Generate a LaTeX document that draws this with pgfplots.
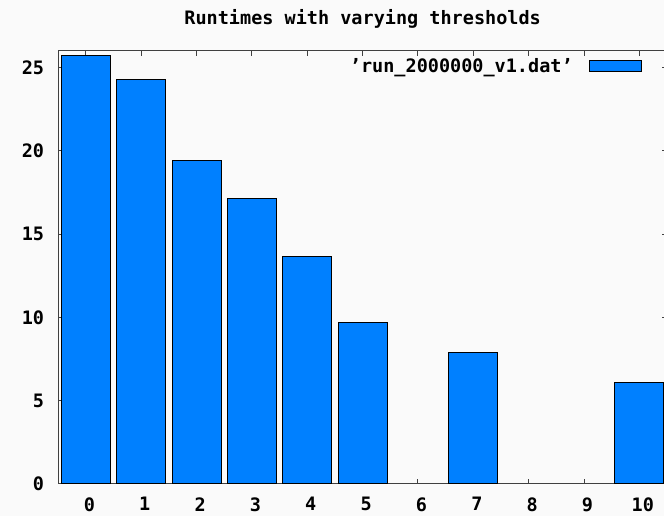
\documentclass[border=0pt]{standalone}
\usepackage{pgfplots}
\pgfplotsset{compat=1.18}
\usepackage{fontspec}
\setmainfont{DejaVu Sans Mono}
\definecolor{barblue}{RGB}{0,128,255}
\definecolor{bg}{RGB}{250,250,250}
\begin{document}
\begin{tikzpicture}[x=1pt,y=1pt]
\useasboundingbox (0,0) rectangle (664,516);
\fill[bg] (0,0) rectangle (664,516);
\begin{axis}[
 at={(58.3pt,32.3pt)}, anchor=south west,
 scale only axis, width=608.7pt, height=432.7pt,
 xmin=-0.5, xmax=10.5, ymin=0, ymax=26,
 xtick={0,...,10}, ytick={0,5,...,25},
 tick align=inside, major tick length=5pt,
 axis line style={black!75, line width=1pt},
 every tick/.style={black!75, line width=1pt},
 font=\bfseries\fontsize{18.5}{22}\selectfont,
 ticklabel style={font=\bfseries\fontsize{18.5}{22}\selectfont},
 /pgf/number format/assume math mode=true,
 xticklabel style={anchor=north, inner sep=0pt, yshift=-13.5pt, xshift=3.5pt},
 yticklabel style={anchor=east, inner sep=0pt, xshift=-14pt},
 title={Runtimes with varying thresholds},
 title style={at={(0.5,1)}, anchor=base, yshift=20pt, inner sep=0pt},
 legend plot pos=right,
 legend style={at={(1,1)}, anchor=east, xshift=-24.7pt, yshift=-15pt, draw=none, fill=none, inner sep=0pt, outer sep=0pt, column sep=16pt, nodes={inner sep=0pt}},
]
\addplot[ybar, bar width=0.89, bar shift=0pt, fill=barblue, draw=black, line width=1pt,
  legend image code/.code={\draw[##1] (0pt,-5.3pt) rectangle (52.6pt,5.3pt);}]
 coordinates {(0,25.75) (1,24.3) (2,19.4) (3,17.14) (4,13.64) (5,9.67) (7,7.86) (10,6.11)};
\addlegendentry{'run\_2000000\_v1.dat'}
\end{axis}
\end{tikzpicture}
\end{document}
